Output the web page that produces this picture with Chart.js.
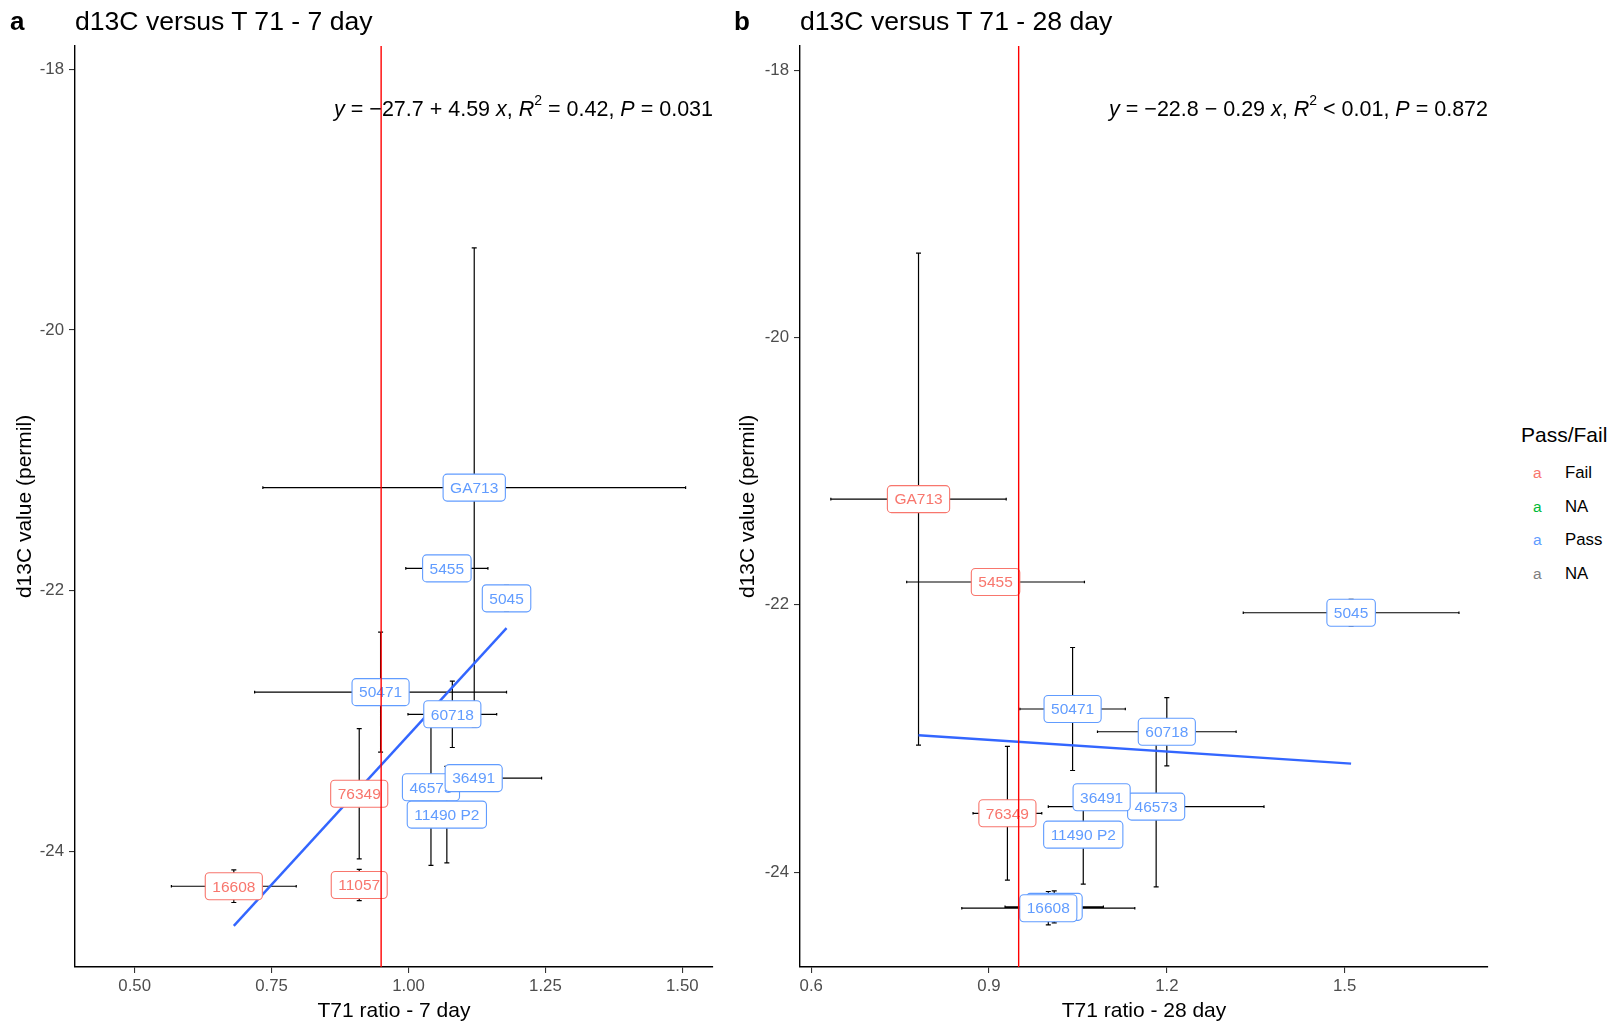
<!DOCTYPE html>
<html>
<head>
<meta charset="utf-8">
<script src="https://cdn.jsdelivr.net/npm/chart.js@4.4.1/dist/chart.umd.min.js"></script>
<style>
  body { margin: 0; background: #fff; font-family: "Liberation Sans", Arial, sans-serif; }
  #lienzo { position: relative; width: 1618px; height: 1025px; overflow: hidden; }
  canvas { position: absolute; top: 0; }
  .tag { position: absolute; top: 6px; font-size: 26px; font-weight: bold; line-height: 30px; color: #000; }
  .titulo { position: absolute; top: 6px; font-size: 26.6px; line-height: 30px; color: #000; white-space: nowrap; }
  #leyenda { position: absolute; left: 0; top: 0; }
  .ley-titulo { position: absolute; left: 1521px; top: 422px; font-size: 21px; line-height: 25px; color: #000; white-space: nowrap; }
  .ley-clave { position: absolute; left: 1533px; font-size: 15.5px; line-height: 20px; }
  .ley-texto { position: absolute; left: 1565px; font-size: 16.8px; line-height: 20px; color: #000; }
</style>
</head>
<body>
<div id="lienzo">
  <canvas id="panelA" width="725" height="1025" style="left:0px"></canvas>
  <canvas id="panelB" width="775" height="1025" style="left:725px"></canvas>

  <div class="tag" style="left:10px">a</div>
  <div class="titulo" style="left:75px">d13C versus T 71 - 7 day</div>
  <div class="tag" style="left:734px">b</div>
  <div class="titulo" style="left:800px">d13C versus T 71 - 28 day</div>

  <div id="leyenda"></div>
</div>

<script>
// datos: muestras y valor d13C (iguales en los dos paneles)
var muestras = ["GA713", "5455", "5045", "50471", "60718", "76349", "46573", "36491", "11490 P2", "11057", "16608"];
var d13C     = [-21.21, -21.83, -22.06, -22.78, -22.95, -23.56, -23.51, -23.44, -23.72, -24.26, -24.27];
var d13CErr  = [1.84, 0.05, 0.10, 0.46, 0.255, 0.50, 0.60, 0.08, 0.37, 0.12, 0.125];

// ratio T71 a 7 dias
var t71_7d    = [1.120, 1.070, 1.179, 0.949, 1.080, 0.910, 1.041, 1.119, 1.070, 0.910, 0.681];
var t71_7dErr = [0.386, 0.075, 0.03, 0.230, 0.081, 0.04, 0.03, 0.124, 0.03, 0.04, 0.114];
var estado7d  = ["Pass", "Pass", "Pass", "Pass", "Pass", "Fail", "Pass", "Pass", "Pass", "Fail", "Fail"];

// ratio T71 a 28 dias
var t71_28d    = [0.781, 0.911, 1.511, 1.041, 1.200, 0.931, 1.182, 1.090, 1.059, 1.010, 1.000];
var t71_28dErr = [0.148, 0.150, 0.182, 0.089, 0.117, 0.058, 0.182, 0.03, 0.03, 0.083, 0.146];
var estado28d  = ["Fail", "Fail", "Pass", "Pass", "Pass", "Fail", "Pass", "Pass", "Pass", "Pass", "Pass"];

// recta de regresion (intercepto, pendiente) y estadisticos
var ajuste7d  = [-27.7, 4.59];
var ajuste28d = [-22.75, -0.29];
var r2_7d = "= 0.42", p_7d = "0.031";
var r2_28d = "< 0.01", p_28d = "0.872";

// limite de corte
var corte = 0.95;

// leyenda
var leyendaTextos  = ["Fail", "NA", "Pass", "NA"];
var leyendaColores = ["#F8766D", "#00BA38", "#619CFF", "#7F7F7F"];

var colores = { Fail: "#F8766D", Pass: "#619CFF" };
var fuente = '"Liberation Sans", Arial, sans-serif';

Chart.defaults.font.family = fuente;
Chart.defaults.color = "#4D4D4D";

// barras de error, etiquetas, linea de corte y ecuacion
var capasExtra = {
  id: "capasExtra",
  beforeDatasetsDraw: function (chart, args, o) {
    var ctx = chart.ctx, xs = chart.scales.x, ys = chart.scales.y;
    var capV = 2.5, capH = 1.3;
    ctx.save();
    ctx.strokeStyle = "#000";
    ctx.lineWidth = 1.2;
    ctx.beginPath();
    for (var i = 0; i < o.x.length; i++) {
      var px = xs.getPixelForValue(o.x[i]);
      var py = ys.getPixelForValue(o.y[i]);
      var y1 = ys.getPixelForValue(o.y[i] + o.yErr[i]);
      var y2 = ys.getPixelForValue(o.y[i] - o.yErr[i]);
      var x1 = xs.getPixelForValue(o.x[i] - o.xErr[i]);
      var x2 = xs.getPixelForValue(o.x[i] + o.xErr[i]);
      // vertical
      ctx.moveTo(px, y1); ctx.lineTo(px, y2);
      ctx.moveTo(px - capV, y1); ctx.lineTo(px + capV, y1);
      ctx.moveTo(px - capV, y2); ctx.lineTo(px + capV, y2);
      // horizontal
      ctx.moveTo(x1, py); ctx.lineTo(x2, py);
      ctx.moveTo(x1, py - capH); ctx.lineTo(x1, py + capH);
      ctx.moveTo(x2, py - capH); ctx.lineTo(x2, py + capH);
    }
    ctx.stroke();
    ctx.restore();
  },
  afterDatasetsDraw: function (chart, args, o) {
    var ctx = chart.ctx, xs = chart.scales.x, ys = chart.scales.y;
    var area = chart.chartArea;
    ctx.save();

    // etiquetas con recuadro
    ctx.font = "15.5px " + fuente;
    ctx.textAlign = "center";
    ctx.textBaseline = "middle";
    for (var i = 0; i < o.x.length; i++) {
      var px = xs.getPixelForValue(o.x[i]);
      var py = ys.getPixelForValue(o.y[i]);
      var color = colores[o.estado[i]];
      var w = ctx.measureText(o.nombres[i]).width + 14;
      var h = 27;
      ctx.beginPath();
      ctx.roundRect(px - w / 2, py - h / 2, w, h, 4);
      ctx.fillStyle = "#fff";
      ctx.fill();
      ctx.lineWidth = 1.1;
      ctx.strokeStyle = color;
      ctx.stroke();
      ctx.fillStyle = color;
      ctx.fillText(o.nombres[i], px, py + 1);
    }

    // linea vertical de corte
    var xc = xs.getPixelForValue(o.corte);
    ctx.beginPath();
    ctx.moveTo(xc, area.top);
    ctx.lineTo(xc, area.bottom);
    ctx.strokeStyle = "#FF0000";
    ctx.lineWidth = 1.4;
    ctx.stroke();

    // ecuacion de la recta
    var b0 = o.ajuste[0], b1 = o.ajuste[1];
    var signo = b1 < 0 ? "\u2212" : "+";
    var normal = "21.5px " + fuente, cursiva = "italic 21.5px " + fuente, sup = "14px " + fuente;
    var trozos = [
      ["y", cursiva, 0],
      [" = \u2212" + Math.abs(b0).toFixed(1) + " " + signo + " " + Math.abs(b1).toFixed(2) + " ", normal, 0],
      ["x", cursiva, 0],
      [", ", normal, 0],
      ["R", cursiva, 0],
      ["2", sup, -9],
      [" " + o.r2 + ", ", normal, 0],
      ["P", cursiva, 0],
      [" = " + o.p, normal, 0]
    ];
    var total = 0;
    trozos.forEach(function (t) { ctx.font = t[1]; total += ctx.measureText(t[0]).width; });
    var xt = area.right - total, yt = area.top + 64;
    ctx.textAlign = "left";
    ctx.fillStyle = "#000";
    trozos.forEach(function (t) {
      ctx.font = t[1];
      ctx.fillText(t[0], xt, yt + t[2]);
      xt += ctx.measureText(t[0]).width;
    });
    ctx.restore();
  }
};

function creaPanel(id, cfg) {
  var puntos = cfg.x.map(function (v, i) { return { x: v, y: d13C[i] }; });
  var xmin = Math.min.apply(null, cfg.x), xmax = Math.max.apply(null, cfg.x);
  var recta = [
    { x: xmin, y: cfg.ajuste[0] + cfg.ajuste[1] * xmin },
    { x: xmax, y: cfg.ajuste[0] + cfg.ajuste[1] * xmax }
  ];

  var config = {
    type: "scatter",
    data: {
      datasets: [
        { data: puntos, pointRadius: 0 },
        { data: recta, showLine: true, pointRadius: 0, borderColor: "#3366FF", borderWidth: 2.4 }
      ]
    },
    plugins: [capasExtra],
    options: {
      responsive: false,
      animation: false,
      devicePixelRatio: 1,
      layout: { padding: { left: cfg.padIzq, right: 12, top: 46, bottom: 0 } },
      plugins: {
        legend: { display: false },
        tooltip: { enabled: false },
        capasExtra: {
          x: cfg.x, xErr: cfg.xErr, y: d13C, yErr: d13CErr,
          nombres: muestras, estado: cfg.estado, corte: corte,
          ajuste: cfg.ajuste, r2: cfg.r2, p: cfg.p
        }
      },
      scales: {
        x: {
          type: "linear",
          min: cfg.xMin, max: cfg.xMax,
          afterFit: function (s) { s.height = 58; },
          ticks: {
            stepSize: cfg.paso, includeBounds: false, padding: 3,
            color: "#4D4D4D", font: { size: 16.8 },
            callback: function (v) { return v.toFixed(cfg.decimales); }
          },
          grid: { display: true, drawOnChartArea: false, drawTicks: true, tickLength: 6, color: "#333333", lineWidth: 1.1 },
          border: { display: true, color: "#000", width: 1.4 },
          title: { display: true, text: cfg.tituloX, color: "#000", font: { size: 21 }, padding: { top: 0, bottom: 1 } }
        },
        y: {
          type: "linear",
          min: cfg.yMin, max: -17.82,
          afterFit: function (s) { s.width = 75 - cfg.padIzq; },
          ticks: {
            stepSize: 2, includeBounds: false, padding: 5,
            color: "#4D4D4D", font: { size: 16.8 },
            callback: function (v) { return String(v); }
          },
          grid: { display: true, drawOnChartArea: false, drawTicks: true, tickLength: 6, color: "#333333", lineWidth: 1.1 },
          border: { display: true, color: "#000", width: 1.4 },
          title: { display: true, text: "d13C value (permil)", color: "#000", font: { size: 21 }, padding: { top: 3, bottom: 0 } }
        }
      }
    }
  };
  new Chart(document.getElementById(id).getContext("2d"), config);
}

creaPanel("panelA", {
  x: t71_7d, xErr: t71_7dErr, estado: estado7d, ajuste: ajuste7d, r2: r2_7d, p: p_7d,
  xMin: 0.391, xMax: 1.556, paso: 0.25, decimales: 2, yMin: -24.89, padIzq: 10,
  tituloX: "T71 ratio - 7 day"
});

creaPanel("panelB", {
  x: t71_28d, xErr: t71_28dErr, estado: estado28d, ajuste: ajuste28d, r2: r2_28d, p: p_28d,
  xMin: 0.581, xMax: 1.742, paso: 0.3, decimales: 1, yMin: -24.71, padIzq: 8,
  tituloX: "T71 ratio - 28 day"
});

// leyenda Pass/Fail
var leyenda = document.getElementById("leyenda");
var htmlLeyenda = '<div class="ley-titulo">Pass/Fail</div>';
leyendaTextos.forEach(function (t, i) {
  var top = 463 + i * 33.7;
  htmlLeyenda += '<div class="ley-clave" style="top:' + top + 'px;color:' + leyendaColores[i] + '">a</div>';
  htmlLeyenda += '<div class="ley-texto" style="top:' + top + 'px">' + t + '</div>';
});
leyenda.innerHTML = htmlLeyenda;
</script>
</body>
</html>
